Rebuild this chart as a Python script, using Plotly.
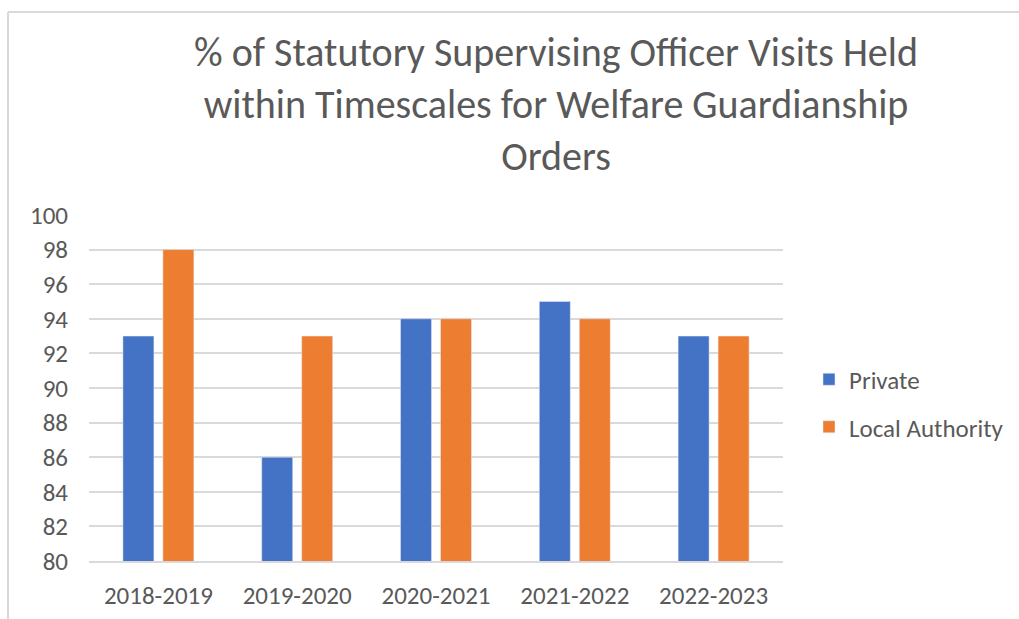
import plotly.graph_objects as go

categories = ["2018-2019", "2019-2020", "2020-2021", "2021-2022", "2022-2023"]
private = [93, 86, 94, 95, 93]
local_authority = [98, 93, 94, 94, 93]
y_ticks = list(range(80, 101, 2))

W, H = 1019, 619
ML, MR, MT, MB = 89, 236, 215, 58
pw = W - ML - MR
ph = H - MT - MB

txt = "#595959"
font = "Carlito, Calibri, 'Open Sans', sans-serif"

fig = go.Figure()
fig.add_trace(go.Bar(name="Private", x=categories, y=private, marker_color="#4472C4",
                     legendgroup="a"))
fig.add_trace(go.Bar(name="Local Authority", x=categories, y=local_authority,
                     marker_color="#ED7D31", legendgroup="b"))

# chart frame (cropped on right/bottom)
x0 = (8 - ML) / pw
ytop = (H - MB - 12) / ph
fig.add_shape(type="line", xref="paper", yref="paper", x0=x0, x1=2, y0=ytop, y1=ytop,
              line=dict(color="#D9D9D9", width=2))
fig.add_shape(type="line", xref="paper", yref="paper", x0=x0, x1=x0, y0=-1, y1=ytop,
              line=dict(color="#D9D9D9", width=2))

fig.update_layout(
    width=W, height=H,
    margin=dict(l=ML, r=MR, t=MT, b=MB),
    paper_bgcolor="white", plot_bgcolor="white",
    barmode="group", bargap=0.424, bargroupgap=0.225,
    font=dict(family=font, color=txt, size=25),
    title=dict(
        text="% of Statutory Supervising Officer Visits Held<br>within Timescales for Welfare Guardianship<br>Orders",
        x=556 / W, xanchor="center", y=1 - 66 / H, yanchor="top",
        font=dict(size=40, color=txt, family=font),
    ),
    legend=dict(xref="container", yref="container",
                x=809 / W, y=1 - 403 / H, xanchor="left", yanchor="middle",
                font=dict(size=25, color=txt), tracegroupgap=12, itemwidth=30,
                traceorder="grouped"),
    showlegend=True,
)
fig.update_yaxes(range=[80, 100], tickvals=y_ticks, showgrid=True, gridcolor="#D9D9D9",
                 gridwidth=2, zeroline=False, showline=False, ticks="", ticklabelstandoff=20,
                 tickfont=dict(size=25, color=txt), automargin=False)
fig.update_xaxes(showline=True, linecolor="#D9D9D9", linewidth=2, ticks="",
                 ticklabelstandoff=11, tickfont=dict(size=25, color=txt), automargin=False)

fig.write_html(
    "out.html",
    config={"displayModeBar": False},
    post_script="document.body.style.margin='0';document.body.style.overflow='hidden';",
)
